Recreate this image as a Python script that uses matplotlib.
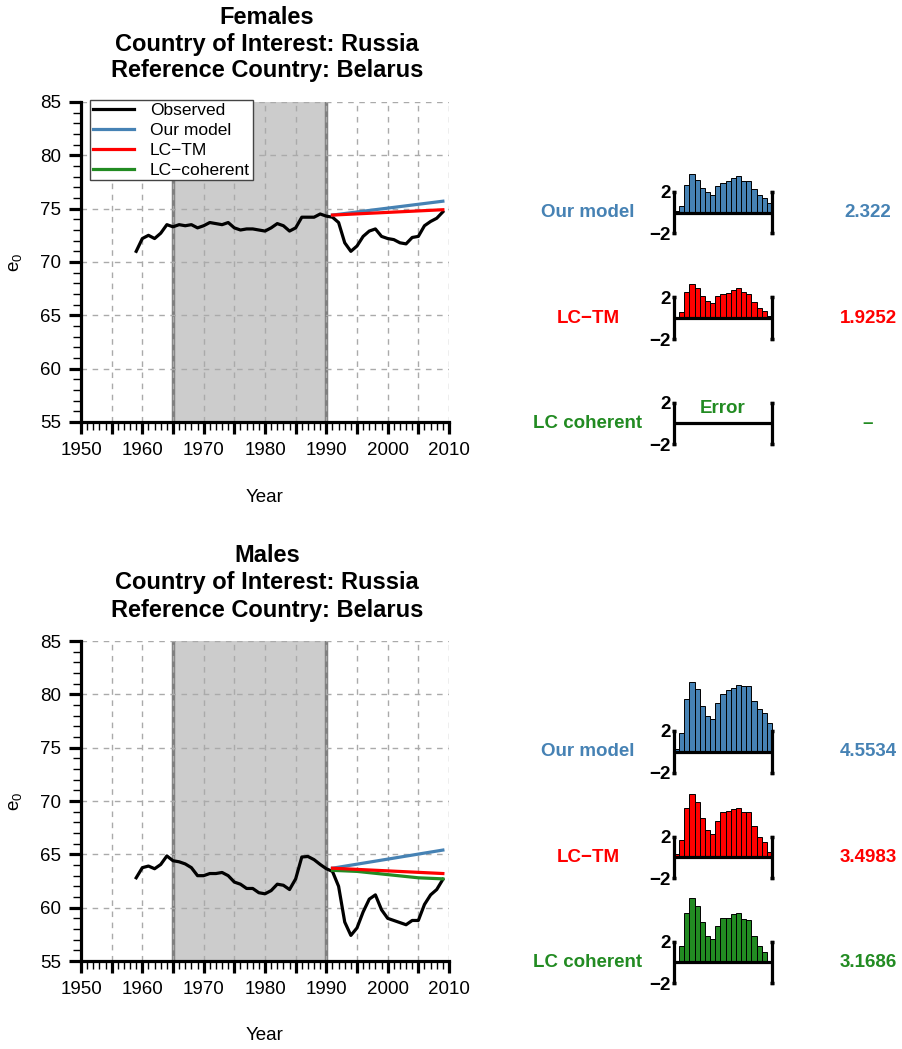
import numpy as np
import matplotlib
matplotlib.use("Agg")
import matplotlib.pyplot as plt
from matplotlib.ticker import MultipleLocator

plt.rcParams['font.family'] = ['Liberation Sans', 'DejaVu Sans']

# observed life expectancy e0, Russia
years = list(range(1959, 2010))
fem_obs = [71.0, 72.2, 72.5, 72.2, 72.7, 73.5, 73.3, 73.5, 73.4, 73.5,
           73.2, 73.4, 73.7, 73.6, 73.5, 73.7, 73.2, 73.0, 73.1, 73.1,
           73.0, 72.9, 73.2, 73.6, 73.4, 72.9, 73.2, 74.2, 74.2, 74.2,
           74.5, 74.3, 74.2, 73.7, 71.8, 71.0, 71.5, 72.4, 72.9, 73.1,
           72.4, 72.2, 72.1, 71.8, 71.7, 72.3, 72.4, 73.4, 73.8, 74.1, 74.7]
male_obs = [62.8, 63.75, 63.9, 63.65, 64.05, 64.85, 64.4, 64.3, 64.1, 63.75,
            63.0, 63.0, 63.2, 63.2, 63.3, 63.0, 62.4, 62.2, 61.8, 61.8,
            61.4, 61.3, 61.6, 62.2, 62.1, 61.7, 62.7, 64.75, 64.8, 64.5,
            64.05, 63.65, 63.4, 62.0, 58.65, 57.4, 58.1, 59.6, 60.8, 61.2,
            59.8, 59.0, 58.8, 58.6, 58.4, 58.8, 58.8, 60.3, 61.2, 61.7, 62.65]

# forecasts 1991-2009
fc_years = [1991, 2009]
fem_ours = [74.4, 75.7]
fem_lctm = [74.4, 74.9]
male_ours = [63.7, 65.4]
male_lctm = [63.7, 63.2]
coh_years = [1991, 1995, 2000, 2005, 2009]
male_coh = [63.5, 63.4, 63.1, 62.8, 62.7]

# forecast errors by year (bars), 19 years
err_fem_ours = [0.13, 0.67, 2.67, 3.67, 3.13, 2.4, 2.0, 1.73, 2.57, 2.83,
                3.0, 3.33, 3.5, 3.07, 3.07, 2.23, 1.73, 1.4, 0.9]
err_fem_lctm = [0.1, 0.6, 2.56, 3.3, 2.9, 2.1, 1.67, 1.44, 2.16, 2.33,
                2.43, 2.75, 2.9, 2.5, 2.33, 1.57, 1.0, 0.69, 0.2]
err_male_ours = [0.23, 1.84, 5.1, 6.68, 6.03, 4.35, 3.45, 3.13, 4.68, 5.58,
                 5.9, 6.13, 6.45, 6.29, 6.35, 4.84, 4.1, 3.7, 2.8]
err_male_lctm = [0.3, 1.66, 4.74, 6.06, 5.3, 3.8, 2.58, 2.2, 3.5, 4.37,
                 4.43, 4.68, 4.77, 4.37, 4.37, 2.98, 1.97, 1.45, 0.52]
err_male_coh = [0.0, 1.52, 4.72, 6.15, 5.4, 3.83, 2.52, 2.2, 3.5, 4.3,
                4.3, 4.62, 4.7, 4.16, 4.1, 2.52, 1.58, 1.02, 0.0]

model_names = ['Our model', 'LC\u2212TM', 'LC coherent']
fem_scores = ['2.322', '1.9252', '\u2013']
male_scores = ['4.5534', '3.4983', '3.1686']

BLUE = '#4682B4'
RED = '#FF0000'
GREEN = '#228B22'
colors = [BLUE, RED, GREEN]

W, H = 903, 1049
fig = plt.figure(figsize=(W / 100, H / 100), dpi=100)


def px_axes(l, t, r, b):
    return fig.add_axes([l / W, 1 - b / H, (r - l) / W, (b - t) / H])


def main_panel(top, sex, obs, ours, lctm, coh=None, legend=False):
    ax = px_axes(81, top, 449, top + 320)
    ax.axvspan(1965, 1990, color='#cccccc', lw=0, zorder=0.5)
    ax.axvline(1965, color='#808080', lw=2.5, zorder=1)
    ax.axvline(1990, color='#808080', lw=2.5, zorder=1)
    ax.plot(years, obs, color='black', lw=2.3, label='Observed', zorder=3)
    ax.plot(fc_years, ours, color=BLUE, lw=2.3, label='Our model', zorder=3)
    ax.plot(fc_years, lctm, color=RED, lw=2.3, label='LC\u2212TM', zorder=4)
    if coh is not None:
        ax.plot(coh_years, coh, color=GREEN, lw=2.3, zorder=3)
    ax.set_xlim(1950, 2010)
    ax.set_ylim(55, 85)
    ax.xaxis.set_minor_locator(MultipleLocator(1))
    ax.yaxis.set_major_locator(MultipleLocator(5))
    ax.yaxis.set_minor_locator(MultipleLocator(1))
    for v in range(1955, 2011, 5):
        ax.axvline(v, color='#aaaaaa', lw=1, ls=(0, (4, 4)), zorder=1.5)
    for v in range(60, 86, 5):
        ax.axhline(v, color='#aaaaaa', lw=1, ls=(0, (4, 4)), zorder=1.5)
    for s in ['top', 'right']:
        ax.spines[s].set_visible(False)
    for s in ['left', 'bottom']:
        ax.spines[s].set_linewidth(2.3)
    ax.tick_params(which='major', length=8.5, width=2.3, labelsize=13.5, pad=6)
    ax.tick_params(which='minor', length=5.5, width=1.0)
    # major ticks every 5 years, labels every 10
    ax.set_xticks(range(1950, 2011, 5))
    ax.set_xticklabels([str(y) if y % 10 == 0 else '' for y in range(1950, 2011, 5)])
    ax.patch.set_visible(False)

    if legend:
        ax.plot([], [], color=GREEN, lw=2.3, label='LC\u2212coherent')
        leg = ax.legend(loc='upper left', bbox_to_anchor=(90 / W, 1 - 100 / H),
                        bbox_transform=fig.transFigure, borderaxespad=0,
                        fontsize=12.5, frameon=True, fancybox=False,
                        framealpha=1, edgecolor='#444444', handlelength=2.4,
                        handletextpad=0.9, labelspacing=0.28, borderpad=0.15)
        leg.get_frame().set_linewidth(1.0)
        leg.set_zorder(5)

    cx = 267
    for i, line in enumerate([sex, 'Country of Interest: Russia',
                              'Reference Country: Belarus']):
        fig.text(cx / W, 1 - (top - 85 + 27 * i) / H, line, ha='center',
                 va='center', fontsize=17, fontweight='bold')
    fig.text(265 / W, 1 - (top + 395) / H, 'Year', ha='center', va='center',
             fontsize=13.5)
    fig.text(15 / W, 1 - (top + 160) / H, r'$\mathregular{e_0}$', ha='center',
             va='center', fontsize=13.5, rotation=90)
    return ax


def small_plot(base, errs, color, name, score):
    unit = 10.4
    ax = px_axes(674, base - 2 * unit, 772, base + 2 * unit)
    ax.set_xlim(0.5, 19.5)
    ax.set_ylim(-2, 2)
    if errs is not None:
        ax.bar(range(1, 20), errs, width=1.0, color=color, edgecolor='black',
               lw=0.7, clip_on=False, zorder=2)
    else:
        ax.text(10, 1.45, 'Error', color=GREEN, fontsize=13.5,
                fontweight='bold', ha='center', va='center')
    ax.axhline(0, color='black', lw=2.3, zorder=3)
    for s in ['top', 'bottom']:
        ax.spines[s].set_visible(False)
    for s in ['left', 'right']:
        ax.spines[s].set_linewidth(2.3)
        ax.spines[s].set_zorder(4)
    ax.set_xticks([])
    ax.set_yticks([-2, 2])
    ax.set_yticklabels(['\u22122', '2'], fontsize=13.5, fontweight='bold')
    ax.tick_params(axis='y', length=3, width=2.5, pad=1, direction='inout',
                   right=True, labelright=False)
    ax.patch.set_visible(False)
    fig.text(588 / W, 1 - base / H, name, color=color, fontsize=13.5,
             fontweight='bold', ha='center', va='center')
    fig.text(868 / W, 1 - base / H, score, color=color, fontsize=13.5,
             fontweight='bold', ha='center', va='center')


main_panel(102, 'Females', fem_obs, fem_ours, fem_lctm, legend=True)
main_panel(641, 'Males', male_obs, male_ours, male_lctm, coh=male_coh)

fem_errs = [err_fem_ours, err_fem_lctm, None]
male_errs = [err_male_ours, err_male_lctm, err_male_coh]
for i, b in enumerate([212.5, 318.3, 423.3]):
    small_plot(b, fem_errs[i], colors[i], model_names[i], fem_scores[i])
for i, b in enumerate([751.7, 857.3, 962.3]):
    small_plot(b, male_errs[i], colors[i], model_names[i], male_scores[i])

fig.savefig('out.png', dpi=100)
